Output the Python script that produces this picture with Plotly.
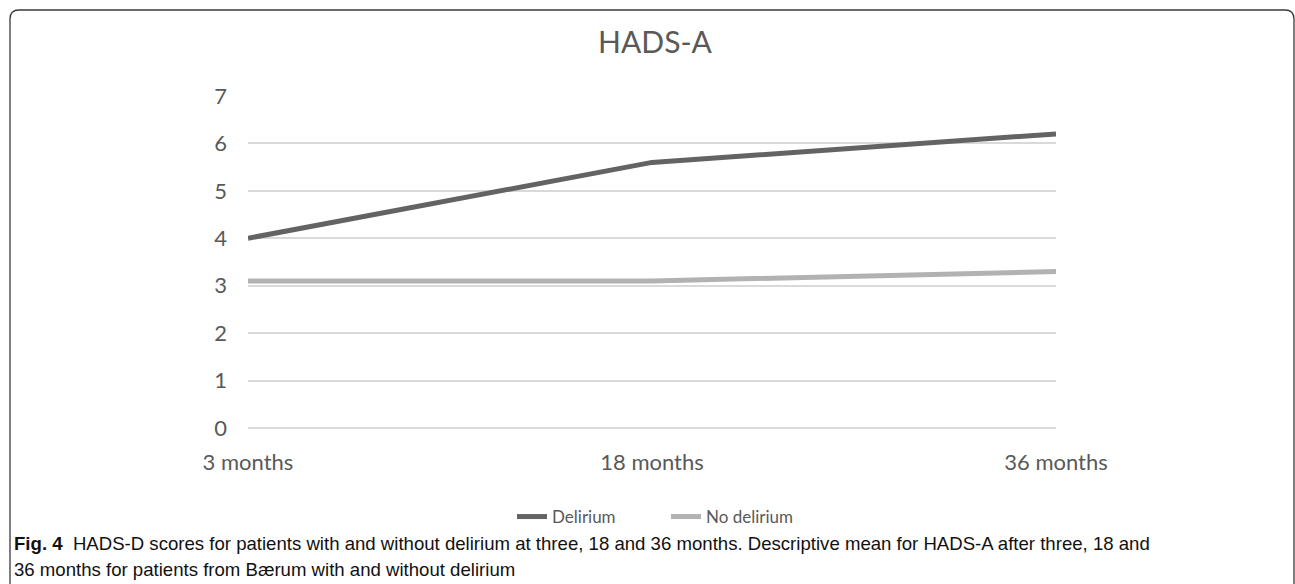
import plotly.graph_objects as go

categories = ["3 months", "18 months", "36 months"]
delirium = [4.0, 5.6, 6.2]
no_delirium = [3.1, 3.1, 3.3]
y_ticks = [0, 1, 2, 3, 4, 5, 6, 7]
title_text = "HADS-A"
caption_line1 = ("<b>Fig. 4</b>  HADS-D scores for patients with and without delirium at three, 18 and 36 months. "
                 "Descriptive mean for HADS-A after three, 18 and")
caption_line2 = "36 months for patients from Bærum with and without delirium"

W, H = 1295, 584
L, R, T, B = 248, 239, 96, 156
pw = W - L - R
ph = H - T - B

fig = go.Figure()
fig.add_trace(go.Scatter(x=categories, y=delirium, mode="lines", name="Delirium",
                         line=dict(color="#636363", width=5)))
fig.add_trace(go.Scatter(x=categories, y=no_delirium, mode="lines", name="No delirium",
                         line=dict(color="#b2b2b2", width=5)))

def px_x(p):
    return (p - L) / pw

def px_y(p):
    return (H - B - p) / ph

# rounded border (pixel path relative to plot-area bottom-left)
x0, x1 = 10 - L, 1294 - L
yt, yb = (H - B) - 10, (H - B) - 600
r = 9
path = (f"M {x0},{yb} L {x0},{yt - r} Q {x0},{yt} {x0 + r},{yt} "
        f"L {x1 - r},{yt} Q {x1},{yt} {x1},{yt - r} L {x1},{yb}")
fig.add_shape(type="path", path=path, xref="paper", yref="paper",
              xsizemode="pixel", ysizemode="pixel", xanchor=0, yanchor=0,
              line=dict(color="#3a3a3a", width=1.3))

cap_font = dict(family="Liberation Sans, Arial, sans-serif", size=18.6, color="#111")
fig.add_annotation(text=caption_line1, xref="paper", yref="paper",
                   x=px_x(12), y=px_y(543), xanchor="left", yanchor="middle",
                   showarrow=False, font=cap_font)
fig.add_annotation(text=caption_line2, xref="paper", yref="paper",
                   x=px_x(12), y=px_y(569), xanchor="left", yanchor="middle",
                   showarrow=False, font=cap_font)

fig.update_layout(
    width=W, height=H,
    margin=dict(l=L, r=R, t=T, b=B),
    paper_bgcolor="white", plot_bgcolor="white",
    font=dict(family="Lato, Open Sans, sans-serif", color="#595959"),
    title=dict(text=title_text, x=px_x(655), xanchor="center", xref="paper",
               y=1 - 42 / H, yanchor="middle", font=dict(size=30, color="#595959")),
    showlegend=True,
    legend=dict(orientation="h", x=px_x(666), xanchor="center", y=px_y(517), yanchor="middle",
                font=dict(size=17, color="#595959"), itemwidth=30, tracegroupgap=0,
                entrywidth=109),
    xaxis=dict(range=[0, 2], showgrid=False, zeroline=False, showline=False,
               ticks="", tickfont=dict(size=22, color="#595959"), ticklabelstandoff=19),
    yaxis=dict(range=[0, 7], tickvals=y_ticks, showgrid=True, gridcolor="#d9d9d9", gridwidth=1.5,
               zeroline=True, zerolinecolor="#d9d9d9", zerolinewidth=1.5, showline=False,
               ticks="", tickfont=dict(size=22, color="#595959"), ticklabelstandoff=20),
)

fig.write_html("out.html", config={"displayModeBar": False},
               post_script="document.body.style.margin='0';document.body.style.padding='0';document.documentElement.style.overflow='hidden';")
